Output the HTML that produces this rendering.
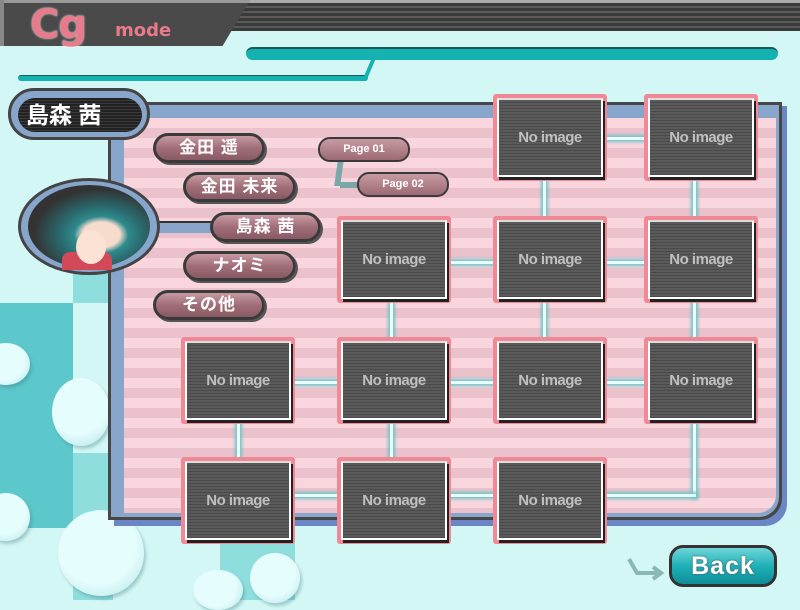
<!DOCTYPE html>
<html><head><meta charset="utf-8"><style>
*{margin:0;padding:0;box-sizing:border-box}
body{width:800px;height:600px;overflow:hidden;position:relative;background:#d3f7f5;font-family:"Liberation Sans","Noto Sans CJK JP",sans-serif}
.a{position:absolute}
.chk{background:#8fdede}
.chk2{background:#5cc8cc}
.bub{position:absolute;border-radius:50%;background:radial-gradient(circle at 45% 40%,#e6fdfd 55%,#c8eef0 80%,#9fcfd4 100%);box-shadow:2px 3px 3px rgba(60,120,130,.35)}
.btn{position:absolute;height:30px;border-radius:15px;background:linear-gradient(#c79aa2,#a06e78 50%,#8a5a64);border:3px solid #3a3a3a;color:#fff;font-weight:bold;font-size:17px;text-align:center;line-height:24px;box-shadow:2px 2px 0 #555;letter-spacing:1px}
.pg{position:absolute;height:25px;border-radius:12px;background:linear-gradient(#c79aa2,#9c6a74);border:2px solid #3a3a3a;color:#fff;font-weight:bold;font-size:11px;text-align:center;line-height:21px}
.t{position:absolute;width:114px;height:87px;background:#f08896;border-radius:3px;padding:4px}
.t div{width:100%;height:100%;border:2px solid #fff;border-top-color:#ddd;box-shadow:2px 3px 0 #222;background:repeating-linear-gradient(#5a5a5a 0 2px,#4a4a4a 2px 3px);color:#c0c0c0;font-weight:bold;font-size:15px;display:flex;align-items:center;justify-content:center;letter-spacing:-.5px}
.ln{position:absolute;background:#e8ffff;box-shadow:0 0 3px 2px #6fc6c8}
</style></head><body>
<div class="a chk" style="left:73px;top:235px;width:40px;height:68px"></div>
<div class="a chk2" style="left:0;top:303px;width:73px;height:150px"></div>
<div class="a chk2" style="left:0;top:453px;width:73px;height:75px"></div>
<div class="a chk" style="left:73px;top:453px;width:40px;height:147px"></div>
<div class="a chk" style="left:220px;top:520px;width:75px;height:80px"></div>
<div class="bub" style="left:-18px;top:343px;width:48px;height:42px"></div>
<div class="bub" style="left:52px;top:378px;width:58px;height:68px"></div>
<div class="bub" style="left:-18px;top:493px;width:48px;height:48px"></div>
<div class="bub" style="left:58px;top:510px;width:86px;height:86px"></div>
<div class="bub" style="left:193px;top:570px;width:50px;height:40px"></div>
<div class="bub" style="left:250px;top:553px;width:50px;height:50px"></div>
<div class="a" style="left:0;top:0;width:800px;height:31px;background:repeating-linear-gradient(#3a3a3a 0 3px,#5a5a5a 3px 5px);border-top:3px solid #aaa"></div>
<div class="a" style="left:0;top:0;width:250px;height:46px;background:#4a4a4a;clip-path:polygon(0 0,100% 0,89% 100%,0 100%);border-top:3px solid #999"></div>
<div class="a" style="left:0;top:0;width:4px;height:46px;background:#888"></div>
<div class="a" style="left:30px;top:2px;color:#e87a8c;font-weight:900;font-size:40px;letter-spacing:-1px;font-family:'DejaVu Sans',sans-serif;text-shadow:0 0 2px #fff">Cg</div>
<div class="a" style="left:115px;top:20px;color:#e87a8c;font-weight:900;font-size:18px;font-family:'DejaVu Sans',sans-serif">mode</div>
<div class="a" style="left:246px;top:47px;width:532px;height:13px;border-radius:7px;background:#14b2b0;border-top:2px solid #1a5a5a"></div>
<div class="a" style="left:18px;top:75px;width:350px;height:6px;border-radius:3px;background:#14b2b0;border-top:1px solid #1a5a5a"></div>
<div class="a" style="left:362px;top:58px;width:14px;height:23px;background:#14b2b0;clip-path:polygon(70% 0,100% 0,30% 100%,0 100%)"></div>
<div class="a" style="left:114px;top:106px;width:673px;height:420px;border-radius:0 0 22px 0;background:#6a86c4"></div>
<div class="a" style="left:108px;top:102px;width:674px;height:418px;border-radius:0 0 22px 0;background:#474747"></div>
<div class="a" style="left:111px;top:105px;width:668px;height:412px;border-radius:0 0 20px 0;background:#88a6cc"></div>
<div class="a" style="left:124px;top:118px;width:652px;height:395px;border-radius:0 0 18px 0;background:repeating-linear-gradient(#f9d6de 0 10px,#ebc2cb 10px 20px)"></div>
<div class="a" style="left:8px;top:88px;width:142px;height:52px;border-radius:26px;background:#88a6cc;border:3px solid #444"></div>
<div class="a" style="left:18px;top:98px;width:124px;height:34px;border-radius:17px;background:repeating-linear-gradient(#222 0 2px,#3a3a3a 2px 3px);color:#fff;font-size:23px;font-weight:bold;line-height:34px;padding-left:8px">島森 茜</div>
<div class="a" style="left:150px;top:221px;width:70px;height:12px;background:#88a6cc;border-top:2px solid #333"></div>
<div class="a" style="left:18px;top:178px;width:142px;height:97px;border-radius:50%;background:#88a6cc;border:3px solid #444"></div>
<div class="a" style="left:28px;top:185px;width:122px;height:83px;border-radius:50%;background:radial-gradient(ellipse at 60% 60%,#f5dccd 0 18%,#2f8a8c 26%,#2a6a6e 40%,#333 65%);overflow:hidden"></div>
<div class="a" style="left:62px;top:252px;width:50px;height:18px;background:#d24a5a;border-radius:8px 8px 0 0"></div>
<div class="a" style="left:76px;top:230px;width:30px;height:34px;background:#fbe2d4;border-radius:50%"></div>
<div class="btn" style="left:153px;top:133px;width:112px">金田 遥</div>
<div class="btn" style="left:183px;top:172px;width:113px">金田 未来</div>
<div class="btn" style="left:210px;top:212px;width:111px">島森 茜</div>
<div class="btn" style="left:183px;top:251px;width:113px">ナオミ</div>
<div class="btn" style="left:153px;top:290px;width:112px">その他</div>
<div class="a" style="left:336px;top:160px;width:6px;height:26px;background:#7aa8a8;transform:skewX(-8deg)"></div>
<div class="a" style="left:340px;top:182px;width:20px;height:6px;background:#7aa8a8"></div>
<div class="pg" style="left:318px;top:137px;width:92px">Page 01</div>
<div class="pg" style="left:357px;top:172px;width:92px">Page 02</div>
<div class="ln" style="left:600px;top:137px;width:50px;height:3px"></div>
<div class="ln" style="left:543px;top:178px;width:3px;height:40px"></div>
<div class="ln" style="left:693px;top:178px;width:3px;height:40px"></div>
<div class="ln" style="left:445px;top:261px;width:50px;height:3px"></div>
<div class="ln" style="left:600px;top:261px;width:50px;height:3px"></div>
<div class="ln" style="left:390px;top:300px;width:3px;height:40px"></div>
<div class="ln" style="left:543px;top:300px;width:3px;height:40px"></div>
<div class="ln" style="left:693px;top:300px;width:3px;height:40px"></div>
<div class="ln" style="left:290px;top:381px;width:50px;height:3px"></div>
<div class="ln" style="left:445px;top:381px;width:50px;height:3px"></div>
<div class="ln" style="left:600px;top:381px;width:50px;height:3px"></div>
<div class="ln" style="left:237px;top:420px;width:3px;height:40px"></div>
<div class="ln" style="left:390px;top:420px;width:3px;height:40px"></div>
<div class="ln" style="left:693px;top:420px;width:3px;height:77px"></div>
<div class="ln" style="left:290px;top:494px;width:50px;height:3px"></div>
<div class="ln" style="left:445px;top:494px;width:50px;height:3px"></div>
<div class="ln" style="left:600px;top:494px;width:96px;height:3px"></div>
<div class="t" style="left:493px;top:94px"><div>No image</div></div>
<div class="t" style="left:644px;top:94px"><div>No image</div></div>
<div class="t" style="left:337px;top:216px"><div>No image</div></div>
<div class="t" style="left:493px;top:216px"><div>No image</div></div>
<div class="t" style="left:644px;top:216px"><div>No image</div></div>
<div class="t" style="left:181px;top:337px"><div>No image</div></div>
<div class="t" style="left:337px;top:337px"><div>No image</div></div>
<div class="t" style="left:493px;top:337px"><div>No image</div></div>
<div class="t" style="left:644px;top:337px"><div>No image</div></div>
<div class="t" style="left:181px;top:457px"><div>No image</div></div>
<div class="t" style="left:337px;top:457px"><div>No image</div></div>
<div class="t" style="left:493px;top:457px"><div>No image</div></div>
<svg class="a" style="left:625px;top:555px" width="40" height="30"><path d="M4 4 L12 18 L32 18" stroke="#8ab8b0" stroke-width="4" fill="none"/><path d="M28 12 L36 18 L28 24" stroke="#8ab8b0" stroke-width="4" fill="none"/></svg>
<div class="a" style="left:669px;top:545px;width:108px;height:42px;border-radius:14px;border:3px solid #333;background:linear-gradient(#6fd6d8,#1fb0b8 50%,#0e8e98);color:#fff;font-weight:900;font-size:25px;text-align:center;line-height:36px;letter-spacing:1px;text-shadow:0 0 2px #555">Back</div>
</body></html>
